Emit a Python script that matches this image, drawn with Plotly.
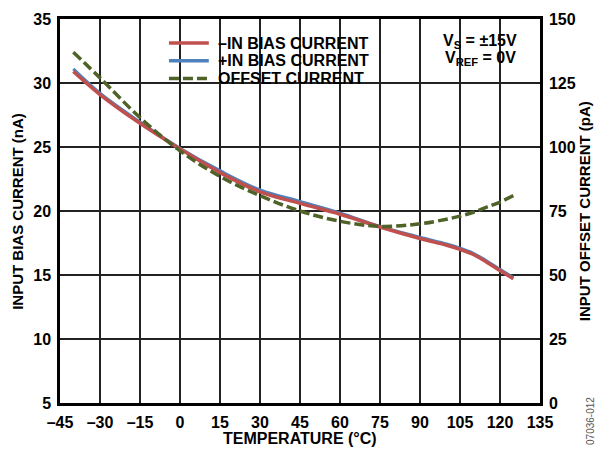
import plotly.graph_objects as go

# temperature points (°C)
temps = [-40, -30, -15, 0, 15, 30, 45, 60, 75, 90, 100, 105, 110, 115, 120, 125]

# input bias currents (nA)
minus_in_bias = [30.9, 29.1, 26.85, 24.85, 23.0, 21.5, 20.6, 19.75, 18.75, 17.85, 17.32, 17.0, 16.6, 16.0, 15.35, 14.7]
plus_in_bias = [31.1, 29.2, 26.95, 24.9, 23.15, 21.65, 20.75, 19.85, 18.8, 17.95, 17.42, 17.1, 16.7, 16.1, 15.45, 14.8]

# input offset current (pA)
offset_current = [137, 127, 111.5, 98.5, 88.5, 81, 75, 71, 69, 70, 71.8, 73, 74.5, 76.5, 78.5, 81]

x_ticks = [-45, -30, -15, 0, 15, 30, 45, 60, 75, 90, 105, 120, 135]
x_labels = ["–45", "–30", "–15", "0", "15", "30", "45", "60", "75", "90", "105", "120", "135"]

series_names = ["–IN BIAS CURRENT", "+IN BIAS CURRENT", "OFFSET CURRENT"]

RED = "#c0504d"
BLUE = "#4f81bd"
GREEN = "#4f6228"
FONT = "Liberation Sans, Arial, sans-serif"
GREEN_DASH = "10px,4px"

fig = go.Figure()

# blue drawn first so the red line sits on top of it
fig.add_trace(go.Scatter(x=temps, y=plus_in_bias, mode="lines", name=series_names[1],
                         line=dict(color=BLUE, width=3, shape="spline")))
fig.add_trace(go.Scatter(x=temps, y=minus_in_bias, mode="lines", name=series_names[0],
                         line=dict(color=RED, width=3.5, shape="spline")))
fig.add_trace(go.Scatter(x=temps, y=offset_current, mode="lines", name=series_names[2], yaxis="y2",
                         line=dict(color=GREEN, width=3.5, dash=GREEN_DASH, shape="spline")))

tick_font = dict(size=16, color="black", family=FONT, weight="bold")
axis_common = dict(showline=True, linecolor="black", linewidth=2.5, ticks="",
                   automargin=False, tickfont=tick_font, ticklabelstandoff=3)

fig.update_layout(
    width=596, height=450,
    margin=dict(l=60, r=56, t=19, b=47),
    paper_bgcolor="white", plot_bgcolor="white",
    font=dict(family=FONT, color="black", weight="bold"),
    showlegend=False,
    xaxis=dict(range=[-45, 135], tickvals=x_ticks, ticktext=x_labels, mirror=True,
               showgrid=True, gridcolor="#222", gridwidth=1.5, zeroline=False, **axis_common),
    yaxis=dict(range=[5, 35], dtick=5, mirror=True,
               showgrid=True, gridcolor="#222", gridwidth=1.5, zeroline=False, **axis_common),
    yaxis2=dict(range=[0, 150], dtick=25, overlaying="y", side="right",
                showgrid=False, zeroline=False, **axis_common),
)

# axis titles
fig.add_annotation(xref="paper", yref="paper", x=0.5, y=-0.092, xanchor="center", yanchor="middle",
                   text="TEMPERATURE (°C)", showarrow=False, font=dict(size=16))
fig.add_annotation(xref="paper", yref="paper", x=-0.09, y=0.5, xanchor="center", yanchor="middle",
                   text="INPUT BIAS CURRENT (nA)", showarrow=False, textangle=-90, font=dict(size=15))
fig.add_annotation(xref="paper", yref="paper", x=1.092, y=0.5, xanchor="center", yanchor="middle",
                   text="INPUT OFFSET CURRENT (pA)", showarrow=False, textangle=-90, font=dict(size=15))

# legend box (white panel hiding the grid) with line samples and labels
fig.add_shape(type="rect", xref="paper", yref="paper", x0=0.204, x1=0.652, y0=0.823, y1=0.977,
              fillcolor="white", line_width=0, layer="between")
legend_rows = [0.9375, 0.8911, 0.8451]
legend_styles = [dict(color=RED, width=3.5), dict(color=BLUE, width=3.5),
                 dict(color=GREEN, width=3.5, dash=GREEN_DASH)]
for name, row, style in zip(series_names, legend_rows, legend_styles):
    fig.add_shape(type="line", xref="paper", yref="paper", x0=0.227, x1=0.31, y0=row, y1=row,
                  line=style, layer="above")
    fig.add_annotation(xref="paper", yref="paper", x=0.325, y=row, xanchor="left", yanchor="middle",
                       text=name, showarrow=False, font=dict(size=16))

# supply conditions box
fig.add_shape(type="rect", xref="paper", yref="paper", x0=0.76, x1=0.99, y0=0.868, y1=0.99,
              fillcolor="white", line_width=0, layer="between")
fig.add_annotation(xref="paper", yref="paper", x=0.875, y=0.942, xanchor="center", yanchor="middle",
                   text="V<sub>S</sub> = ±15V", showarrow=False, font=dict(size=16))
fig.add_annotation(xref="paper", yref="paper", x=0.875, y=0.896, xanchor="center", yanchor="middle",
                   text="V<sub>REF</sub> = 0V", showarrow=False, font=dict(size=16))

fig.add_annotation(xref="paper", yref="paper", x=1.104, y=-0.047, xanchor="center", yanchor="middle",
                   text="07036-012", showarrow=False, textangle=-90,
                   font=dict(size=10, color="#555", weight="normal"))

# drop the browser's default body margin so the figure fills the window exactly
fig.write_html("out.html", config={"displayModeBar": False},
               post_script="document.body.style.margin='0';")
